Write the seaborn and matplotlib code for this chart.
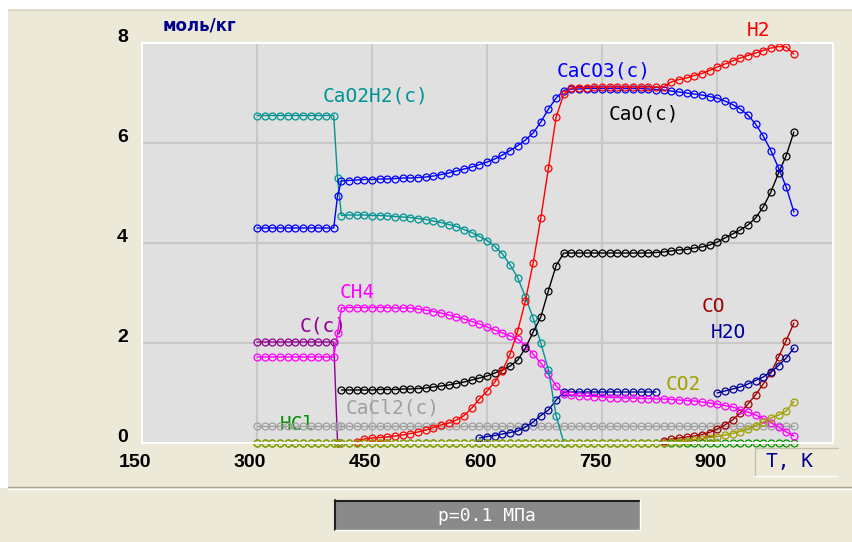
import numpy as np
import pandas as pd
import matplotlib
matplotlib.use("Agg")
import matplotlib.pyplot as plt
import seaborn as sns
from matplotlib.patches import Rectangle
from matplotlib.lines import Line2D
from matplotlib.transforms import ScaledTranslation

nan = np.nan

# ---------------- data ----------------
T = list(range(300, 410, 10)) + [405] + list(range(410, 1010, 10))

caoh2 = ([6.55] * 11 + [5.30] +
         [4.55, 4.56, 4.56, 4.56, 4.55, 4.55, 4.54, 4.53, 4.52, 4.51,
          4.49, 4.47, 4.44, 4.41, 4.37, 4.33, 4.27, 4.21, 4.13, 4.05,
          3.93, 3.78, 3.56, 3.30, 2.92, 2.50, 2.00, 1.46, 0.55, 0.00] +
         [nan] * 30)

caco3 = ([4.30] * 11 + [4.95] +
         [5.24, 5.25, 5.26, 5.27, 5.27, 5.28, 5.28, 5.29, 5.30, 5.30,
          5.31, 5.32, 5.34, 5.37, 5.40, 5.44, 5.48, 5.52, 5.57, 5.62,
          5.68, 5.76, 5.85, 5.95, 6.06, 6.20, 6.42, 6.68, 6.90, 7.05,
          7.08, 7.08, 7.09, 7.09, 7.09, 7.09, 7.09, 7.09, 7.09, 7.09,
          7.08, 7.07, 7.06, 7.04, 7.02, 7.00, 6.98, 6.96, 6.93, 6.90,
          6.84, 6.77, 6.68, 6.56, 6.38, 6.14, 5.85, 5.50, 5.12, 4.62])

h2 = ([nan] * 11 + [nan] +
      [nan, nan, 0.03, 0.08, 0.10, 0.11, 0.12, 0.14, 0.16, 0.19,
       0.22, 0.26, 0.31, 0.36, 0.40, 0.46, 0.55, 0.70, 0.88, 1.04,
       1.22, 1.45, 1.78, 2.25, 2.85, 3.60, 4.50, 5.50, 6.52, 6.98,
       7.10, 7.11, 7.11, 7.12, 7.12, 7.12, 7.12, 7.12, 7.12, 7.12,
       7.12, 7.12, 7.12, 7.22, 7.27, 7.30, 7.35, 7.39, 7.45, 7.52,
       7.58, 7.64, 7.70, 7.75, 7.80, 7.85, 7.90, 7.93, 7.92, 7.78])

cao = ([nan] * 11 + [nan] +
       [1.06, 1.06, 1.06, 1.06, 1.06, 1.07, 1.07, 1.07, 1.08, 1.08,
        1.09, 1.10, 1.12, 1.14, 1.16, 1.19, 1.22, 1.26, 1.30, 1.34,
        1.40, 1.46, 1.54, 1.66, 1.90, 2.22, 2.52, 3.05, 3.55, 3.80,
        3.80, 3.80, 3.80, 3.80, 3.80, 3.80, 3.80, 3.80, 3.80, 3.80,
        3.80, 3.81, 3.82, 3.84, 3.86, 3.87, 3.90, 3.92, 3.96, 4.02,
        4.10, 4.18, 4.26, 4.36, 4.50, 4.72, 5.02, 5.40, 5.75, 6.22])

ch4 = ([1.72] * 11 + [2.20] +
       [2.70, 2.71, 2.71, 2.71, 2.71, 2.71, 2.71, 2.70, 2.70, 2.70,
        2.68, 2.66, 2.63, 2.60, 2.56, 2.52, 2.48, 2.43, 2.38, 2.32,
        2.26, 2.20, 2.14, 2.08, 1.95, 1.78, 1.60, 1.38, 1.14, 0.98,
        0.96, 0.95, 0.94, 0.93, 0.92, 0.91, 0.91, 0.90, 0.90, 0.89,
        0.89, 0.88, 0.88, 0.87, 0.86, 0.85, 0.84, 0.82, 0.80, 0.78,
        0.75, 0.72, 0.67, 0.62, 0.56, 0.49, 0.41, 0.32, 0.22, 0.14])

carbon = [2.02] * 11 + [0.00] + [nan] * 60

cacl2 = [0.35] * 72

hcl = [0.00] * 72

co2 = ([0.00] * 11 + [0.00] +
       [0.00] * 40 +
       [0.00, 0.00, 0.01, 0.02, 0.03, 0.05, 0.07, 0.09, 0.11, 0.13,
        0.16, 0.19, 0.23, 0.28, 0.35, 0.42, 0.50, 0.56, 0.64, 0.83])

co = ([nan] * 11 + [nan] +
      [nan] * 40 +
      [nan, nan, 0.05, 0.08, 0.10, 0.12, 0.14, 0.17, 0.21, 0.28,
       0.36, 0.46, 0.60, 0.78, 0.96, 1.18, 1.40, 1.72, 2.05, 2.40])

h2o = ([nan] * 11 + [nan] +
       [nan] * 10 +
       [nan, nan, nan, nan, nan, nan, nan, nan, 0.10, 0.13,
        0.15, 0.18, 0.21, 0.24, 0.32, 0.42, 0.55, 0.66, 0.86, 1.02,
        1.02, 1.02, 1.02, 1.02, 1.02, 1.02, 1.02, 1.02, 1.02, 1.02,
        1.02, 1.02, nan, nan, nan, nan, nan, nan, nan, 1.00,
        1.04, 1.08, 1.12, 1.18, 1.25, 1.32, 1.42, 1.55, 1.70, 1.90])

x_ticks = [150, 300, 450, 600, 750, 900]
y_ticks = [0, 2, 4, 6, 8]

series = [
    ("HCl", hcl, "#009000"),
    ("C(c)", carbon, "#900090"),
    ("CaCl2(c)", cacl2, "#a0a0a0"),
    ("CO", co, "#a00000"),
    ("H2O", h2o, "#0000a0"),
    ("CH4", ch4, "#ff00ff"),
    ("CaO2H2(c)", caoh2, "#009494"),
    ("CaO(c)", cao, "#000000"),
    ("CaCO3(c)", caco3, "#0000ff"),
    ("H2", h2, "#ff0000"),
    ("CO2", co2, "#a0a000"),
]

# label placement (T, value) and colour
labels = [
    ("CaO2H2(c)", 386, 6.94, "#009494"),
    ("CaCO3(c)", 691, 7.44, "#0000ff"),
    ("CaO(c)", 759, 6.58, "#000000"),
    ("H2", 938, 8.26, "#ff0000"),
    ("CH4", 408, 3.02, "#ff00ff"),
    ("C(c)", 356, 2.34, "#900090"),
    ("CaCl2(c)", 415, 0.70, "#a0a0a0"),
    ("HCl", 330, 0.36, "#009000"),
    ("CO", 880, 2.74, "#a00000"),
    ("H2O", 891, 2.22, "#0000a0"),
    ("CO2", 833, 1.16, "#a0a000"),
]

# ---------------- figure ----------------
sns.set_theme(style="white")
plt.rcParams['font.family'] = ['DejaVu Sans']

W, H = 853, 542
BEIGE = "#ece9d8"
fig = plt.figure(figsize=(W / 100, H / 100), dpi=100, facecolor=BEIGE)


def fx(x):
    return x / W


def fy(y):
    return 1 - y / H


def prect(x0, y0, x1, y1, **kw):
    r = Rectangle((fx(x0), fy(y1)), fx(x1) - fx(x0), fy(y0) - fy(y1),
                  transform=fig.transFigure, **kw)
    fig.patches.append(r)
    return r


def pline(xs, ys, **kw):
    fig.lines.append(Line2D([fx(x) for x in xs], [fy(y) for y in ys],
                            transform=fig.transFigure, **kw))


# window decorations
prect(0, 0, W, 9, facecolor="white", edgecolor="none")
prect(0, 0, 8, 488, facecolor="white", edgecolor="none")
pline([8, W], [9.5, 9.5], color="#d8d4c4", lw=1)
pline([8, W], [487, 487], color="#a8a490", lw=1)
pline([8, W], [488.5, 488.5], color="white", lw=1)

# pressure box
prect(335, 500, 640, 530, facecolor="#8a8a8a", edgecolor="none")
pline([335, 640], [500.5, 500.5], color="#202020", lw=1.5)
pline([335.5, 335.5], [500, 530], color="#202020", lw=1.5)
pline([335, 640], [530, 530], color="white", lw=1)
pline([640, 640], [500, 530], color="white", lw=1)
fig.text(fx(487), fy(516), "p=0.1 МПа", color="white", ha="center", va="center",
         fontsize=13, family=["DejaVu Sans Mono", "DejaVu Sans"])

# T, K box
prect(755, 448, 838, 476, facecolor=BEIGE, edgecolor="none")
pline([755, 838], [448, 448], color="#c4c0b0", lw=1)
pline([755, 755], [448, 476], color="#c4c0b0", lw=1)
pline([755, 838], [476, 476], color="white", lw=1)
fig.text(fx(766), fy(462), "T, K", color="#00008b", ha="left", va="center",
         fontsize=14, family=["DejaVu Sans Mono", "DejaVu Sans"])

# unit label
fig.text(fx(163), fy(26), "моль/кг", color="#00008b", ha="left", va="center",
         fontsize=12, fontweight="bold", family=["DejaVu Sans", "Noto Sans"])

# axes
ax = fig.add_axes([fx(142), fy(443), fx(833) - fx(142), fy(43) - fy(443)])
ax.set_facecolor("#e0e0e0")
ax.set_xlim(150, 1051)
ax.set_ylim(0, 8)
ax.set_axisbelow(True)
ax.grid(True, color="#c8c8c8", lw=1.5)
for s in ax.spines.values():
    s.set_color("white")
    s.set_linewidth(1.5)

for name, vals, col in series:
    v = np.array(vals, dtype=float)
    t = np.array(T, dtype=float)
    order = np.argsort(t, kind="stable")
    t, v = t[order], v[order]
    ok = ~np.isnan(v)
    idx = np.where(ok)[0]
    if len(idx) == 0:
        continue
    breaks = np.where(np.diff(idx) > 1)[0]
    starts = np.r_[idx[0], idx[breaks + 1]]
    ends = np.r_[idx[breaks], idx[-1]]
    for a, b in zip(starts, ends):
        df = pd.DataFrame({"T": t[a:b + 1], "v": v[a:b + 1]})
        sns.lineplot(data=df, x="T", y="v", ax=ax, color=col, marker="o",
                     markersize=5.0, markerfacecolor="none",
                     markeredgecolor=col, markeredgewidth=0.9,
                     linewidth=1.0, clip_on=False, errorbar=None,
                     legend=False, sort=False)

ax.set_xlabel("")
ax.set_ylabel("")

for text, tx, ty, col in labels:
    ax.text(tx, ty, text, color=col, ha="left", va="center", fontsize=14,
            family=["DejaVu Sans Mono", "DejaVu Sans"], zorder=1.5, clip_on=False)

ax.set_xticks(x_ticks)
ax.set_yticks(y_ticks)
ax.set_xticklabels([str(v) for v in x_ticks])
ax.set_yticklabels([str(v) for v in y_ticks])
ax.tick_params(axis="both", length=0)
ax.tick_params(axis="x", pad=8)
ax.tick_params(axis="y", pad=10)
tick_font = dict(family=["Liberation Sans", "DejaVu Sans"], size=14,
                 weight="bold")
for lab in ax.get_xticklabels():
    lab.set(**tick_font, color="black")
    lab.set_transform(lab.get_transform() +
                      ScaledTranslation(-7 / 100, 0, fig.dpi_scale_trans))
for lab in ax.get_yticklabels():
    lab.set(**tick_font, color="black")
    lab.set_transform(lab.get_transform() +
                      ScaledTranslation(0, 7 / 100, fig.dpi_scale_trans))

fig.savefig("out.png", dpi=100, facecolor=BEIGE)
